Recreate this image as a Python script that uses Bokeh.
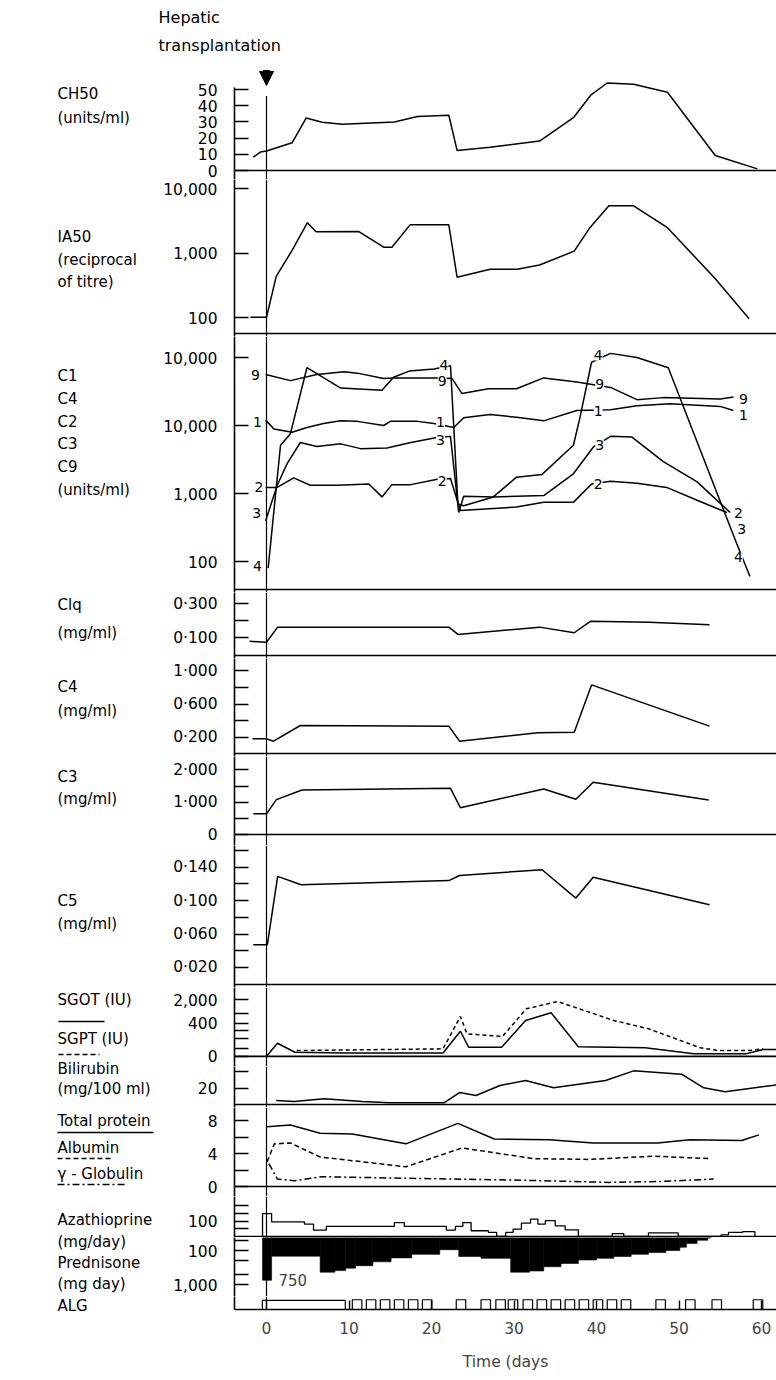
import numpy as np
from bokeh.plotting import figure
from bokeh.layouts import column, row
from bokeh.models import Range1d, FixedTicker, Span, Label, Arrow, NormalHead
from bokeh.embed import file_html
from bokeh.resources import INLINE
from bokeh.core.properties import value

FONT = "DejaVu Sans"
TICK_FS = "15.5px"
LABEL_FS = "15px"

# ---------------- data ----------------
day_ticks = [0, 10, 20, 30, 40, 50, 60]

ch50_day = [-1.6, -0.75, 0.0, 3.1, 4.8, 6.75, 9.2, 15.5, 18.3, 22.1, 23.1, 27.1, 33.1, 37.2, 39.3, 41.3, 44.5, 48.6, 54.4, 59.5]
ch50_val = [8.3, 11.4, 12.0, 17.1, 32.4, 29.8, 28.5, 30.0, 33.3, 34.1, 12.4, 14.3, 18.2, 32.6, 46.5, 54.0, 53.3, 48.3, 9.3, 1.0]

ia50_day = [-1.96, 0.0, 1.18, 3.1, 4.96, 6.0, 11.2, 14.2, 15.2, 17.4, 22.1, 23.1, 27.1, 30.4, 33.1, 37.3, 39.2, 41.5, 44.5, 48.6, 54.4, 58.5]
ia50_val = [101, 101, 433, 1100, 2950, 2130, 2150, 1230, 1230, 2730, 2730, 422, 560, 560, 650, 1070, 2470, 5390, 5390, 2470, 400, 96]

c9_day = [-0.1, 2.9, 6.1, 9.4, 11.0, 14.2, 15.4, 20.7, 22.5, 23.7, 26.9, 30.3, 33.6, 37.6, 41.7, 44.9, 48.1, 55.0, 56.6]
c9_val = [56200, 45700, 56200, 61700, 58900, 49000, 50100, 50100, 49000, 29500, 34700, 34700, 50100, 43600, 36300, 24000, 25700, 24500, 26300]

c4_day = [0.2, 1.7, 2.9, 4.9, 9.0, 14.0, 15.4, 17.3, 20.3, 22.3, 23.2, 23.9, 27.5, 30.3, 33.4, 37.2, 38.0, 39.4, 41.7, 44.9, 48.7, 57.0, 58.6]
c4_val = [80, 5130, 7590, 70800, 35500, 33100, 51300, 63100, 67600, 75900, 700, 660, 891, 1740, 1910, 5130, 13200, 85100, 115000, 100000, 70800, 182, 60]

c1_day = [-0.1, 0.9, 3.1, 4.9, 6.9, 9.0, 11.0, 14.2, 15.0, 18.3, 20.3, 22.7, 23.9, 27.1, 30.3, 33.6, 37.6, 41.7, 44.9, 48.9, 55.0, 56.6]
c1_val = [12000, 8900, 7940, 9330, 10700, 11700, 11500, 10000, 11500, 11500, 10700, 9330, 13000, 14500, 13200, 11700, 16600, 17000, 19500, 20900, 19100, 16600]

c3_day = [-0.1, 1.3, 2.5, 4.1, 6.1, 9.0, 11.4, 14.6, 17.5, 20.5, 22.3, 23.3, 23.9, 27.5, 33.6, 37.2, 39.6, 41.7, 44.3, 48.1, 52.2, 56.2]
c3_val = [398, 1320, 2750, 5620, 4900, 5370, 4570, 4680, 5620, 6610, 6920, 525, 912, 891, 933, 1950, 4790, 6920, 6760, 2950, 1480, 525]

c2_day = [-0.1, 1.3, 3.3, 5.3, 8.6, 12.4, 14.0, 15.2, 17.5, 20.7, 22.3, 23.5, 30.3, 33.6, 37.2, 39.4, 41.7, 44.9, 48.5, 52.2, 55.8]
c2_val = [1230, 1230, 1700, 1320, 1320, 1380, 891, 1350, 1350, 1620, 1660, 562, 631, 741, 741, 1380, 1510, 1410, 1230, 794, 525]

c_tag_text = ["9", "1", "2", "3", "4", "9", "1", "3", "2", "4", "9", "1", "3", "2", "4", "9", "1", "2", "3", "4"]
c_tag_day = [-1.33, -1.1, -0.9, -1.2, -1.1, 21.3, 21.1, 21.1, 21.3, 21.5, 40.4, 40.2, 40.4, 40.2, 40.2, 57.8, 57.8, 57.2, 57.6, 57.2]
c_tag_val = [54950, 11220, 1230, 513, 87, 45710, 11220, 6030, 1550, 77620, 40740, 16600, 5130, 1380, 107150, 24550, 14130, 525, 302, 115]

clq_day = [-2.06, 0.0, 1.35, 22.1, 23.2, 33.1, 37.3, 39.3, 46.4, 53.7]
clq_val = [0.078, 0.072, 0.161, 0.161, 0.118, 0.161, 0.128, 0.196, 0.190, 0.175]

c4m_day = [-1.7, 0.0, 0.85, 4.1, 22.1, 23.4, 32.9, 37.3, 39.4, 53.7]
c4m_val = [0.18, 0.18, 0.152, 0.341, 0.333, 0.152, 0.253, 0.26, 0.83, 0.333]

c3m_day = [-1.6, 0.0, 1.2, 4.3, 22.3, 23.5, 33.6, 37.5, 39.6, 53.6]
c3m_val = [0.64, 0.64, 1.08, 1.38, 1.43, 0.83, 1.41, 1.09, 1.62, 1.07]

c5_day = [-1.6, 0.1, 1.35, 4.2, 22.1, 23.4, 33.4, 37.5, 39.6, 53.7]
c5_val = [0.047, 0.047, 0.129, 0.119, 0.124, 0.130, 0.137, 0.103, 0.128, 0.095]

SGOT_ZERO = 44  # value sitting on the "0" line of the broken SGOT/SGPT scale
sgot_day = [0.0, 1.33, 3.44, 9.6, 21.4, 23.5, 24.5, 28.5, 31.4, 34.5, 37.8, 45.9, 51.8, 58.1, 60.2, 61.8]
sgot_val = [44, 106, 58, 55, 55, 238, 81, 81, 489, 818, 84, 78, 52, 52, 70, 70]
sgpt_day = [3.66, 21.4, 23.5, 24.3, 28.6, 31.5, 35.3, 42.1, 46.3, 52.6, 54.7, 58.5, 60.2]
sgpt_val = [65, 73, 638, 200, 167, 1072, 1750, 489, 280, 78, 65, 65, 73]

bili_day = [1.18, 3.36, 7.0, 11.6, 15.0, 21.5, 23.4, 25.4, 28.3, 31.4, 34.8, 41.1, 44.5, 50.3, 53.0, 55.6, 61.8]
bili_val = [4.8, 3.6, 6.9, 3.6, 2.0, 2.0, 14.5, 10.9, 23.0, 29.0, 20.2, 29.0, 40.8, 36.8, 20.2, 15.4, 23.8]

tp_day = [0.07, 2.9, 6.5, 10.4, 16.9, 23.2, 27.6, 34.3, 39.6, 47.4, 51.3, 57.6, 59.7]
tp_val = [7.3, 7.5, 6.5, 6.4, 5.2, 7.7, 5.8, 5.7, 5.3, 5.3, 5.7, 5.6, 6.3]
alb_day = [0.07, 0.95, 2.9, 6.5, 16.9, 23.7, 32.4, 39.2, 46.9, 53.7]
alb_val = [3.0, 5.2, 5.3, 3.6, 2.4, 4.7, 3.4, 3.3, 3.7, 3.4]
glob_day = [0.28, 1.33, 3.4, 6.75, 16.9, 29.5, 41.6, 47.4, 54.2]
glob_val = [2.8, 0.9, 0.7, 1.2, 1.0, 0.8, 0.5, 0.6, 0.9]

aza_start = [-0.48, 0.62, 4.6, 5.7, 7.25, 15.5, 16.7, 21.8, 22.9, 23.8, 24.8, 26.9, 27.9, 29.0, 29.9, 30.9, 32.0, 32.9, 33.8, 35.0, 36.2, 37.8, 41.9, 43.3, 46.3, 49.9, 55.1, 56.0, 57.7]
aza_dose = [148, 95, 80, 41, 65, 90, 65, 41, 65, 90, 37, 26, 0, 26, 48, 86, 112, 80, 103, 69, 43, 0, 19, 0, 24, 0, 10, 26, 32]
aza_end = 59.2

pred_start = [-0.48, 0.62, 6.5, 8.3, 9.6, 10.8, 12.9, 15.1, 17.6, 21.0, 23.3, 26.0, 29.6, 31.9, 33.6, 35.7, 37.8, 40.0, 42.1, 44.2, 46.3, 48.4, 50.1, 50.9, 52.2, 53.5]
pred_dose = [750, 147, 435, 390, 330, 280, 215, 165, 130, 95, 150, 170, 435, 400, 300, 240, 190, 170, 150, 130, 115, 100, 80, 62, 50, 43]
pred_end = 53.9

alg_course = (-0.5, 9.55)
alg_days = [10.4, 12.1, 13.8, 15.5, 17.2, 18.9, 23.0, 26.0, 27.8, 29.3, 31.1, 32.8, 34.5, 36.2, 37.9, 39.6, 41.3, 43.0, 47.2, 50.8, 54.0, 59.0]

# ---------------- layout (window pixels) ----------------
PAGE_W, PAGE_H = 776, 1380
HEAD_H = 66
LBL_R = 156
AX_X = 234
DAY0_X = 266
PX_DAY = 8.25
FRAME_W = PAGE_W - AX_X
x_range = Range1d((AX_X - DAY0_X) / PX_DAY, (PAGE_W - DAY0_X) / PX_DAY)


def y_limits(kind, top, bottom, ref_val, ref_px, ppu):
    if kind == "lin":
        return ref_val - (bottom - ref_px) / ppu, ref_val + (ref_px - top) / ppu
    lr = np.log10(ref_val)
    if kind == "log":
        return 10 ** (lr - (bottom - ref_px) / ppu), 10 ** (lr + (ref_px - top) / ppu)
    return 10 ** (lr + (bottom - ref_px) / ppu), 10 ** (lr + (top - ref_px) / ppu)


def make_panel(top, bottom, kind, ref_val, ref_px, ppu, ticks, labels,
               sep=None, last=False, day0=True):
    start, end = y_limits(kind, top, bottom, ref_val, ref_px, ppu)
    p = figure(x_range=x_range, y_range=Range1d(start, end),
               y_axis_type="linear" if kind == "lin" else "log",
               frame_width=FRAME_W, frame_height=bottom - top,
               min_border_left=AX_X - LBL_R, min_border_right=0,
               min_border_top=0,
               min_border_bottom=(PAGE_H - bottom) if last else 0,
               x_axis_location="below" if last else None,
               toolbar_location=None, output_backend="svg", title=None)
    p.outline_line_color = None
    p.grid.visible = False
    p.background_fill_color = "white"
    p.border_fill_color = "white"
    ax = p.yaxis[0]
    ax.ticker = FixedTicker(ticks=ticks, minor_ticks=[])
    ax.major_label_overrides = {t: l for t, l in zip(ticks, labels)}
    ax.major_tick_in = 14
    ax.major_tick_out = 0
    ax.minor_tick_in = 0
    ax.minor_tick_out = 0
    ax.major_label_standoff = 17
    ax.axis_line_width = 1.6
    ax.major_tick_line_width = 1.6
    ax.major_label_text_font = FONT
    ax.major_label_text_font_size = TICK_FS
    ax.major_label_text_color = "black"
    if sep is not None:
        p.add_layout(Span(location=sep, dimension="width", line_color="black", line_width=1.6))
    if day0:
        p.add_layout(Span(location=0, dimension="height", line_color="black", line_width=1.2))
    return p, start, end


def line(p, x, y, dash="solid"):
    p.line(x, y, line_color="black", line_width=1.5, line_dash=dash)


panels = []

# CH50
p1, s1, e1 = make_panel(HEAD_H, 179, "lin", 0, 170, 1.62, [0, 10, 20, 30, 40, 50],
                        ["0", "10", "20", "30", "40", "50"], sep=0, day0=False)
p1.yaxis[0].bounds = (s1, 51.2)
p1.segment(x0=[0], y0=[s1], x1=[0], y1=[46], line_color="black", line_width=1.2)
p1.add_layout(Arrow(x_start=0, y_start=62, x_end=0, y_end=52.5, line_width=7,
                    end=NormalHead(size=14, fill_color="black", line_color="black")))
line(p1, ch50_day, ch50_val)
panels.append(p1)

# IA50
p2, _, _ = make_panel(179, 336, "log", 100, 317, 64.5, [100, 1000, 10000], ["100", "1,000", "10,000"],
                      sep=10 ** (2 - (333 - 317) / 64.5))
line(p2, ia50_day, ia50_val)
panels.append(p2)

# C components
p3, _, _ = make_panel(336, 592, "log", 100, 561, 68, [100, 1000, 10000, 100000],
                      ["100", "1,000", "10,000", "10,000"], sep=10 ** (2 - (589 - 561) / 68))
for d, v in [(c9_day, c9_val), (c4_day, c4_val), (c1_day, c1_val), (c3_day, c3_val), (c2_day, c2_val)]:
    line(p3, d, v)
p3.text(x=c_tag_day, y=c_tag_val, text=c_tag_text, text_font=value(FONT), text_font_size="14px",
        text_align="center", text_baseline="middle", background_fill_color="white")
panels.append(p3)

# Clq
p4, _, _ = make_panel(592, 658, "lin", 0.1, 637, 170, [0.1, 0.2, 0.3], ["0·100", "", "0·300"],
                      sep=0.1 - (655 - 637) / 170)
line(p4, clq_day, clq_val)
panels.append(p4)

# C4 mg
p5, _, _ = make_panel(658, 756, "lin", 0.2, 736.7, 83, [0.2, 0.4, 0.6, 0.8, 1.0],
                      ["0·200", "", "0·600", "", "1·000"], sep=0.2 - (753 - 736.7) / 83)
line(p5, c4m_day, c4m_val)
panels.append(p5)

# C3 mg
p6, _, _ = make_panel(756, 845, "lin", 0, 834, 32.3, [0, 0.5, 1.0, 1.5, 2.0],
                      ["0", "", "1·000", "", "2·000"], sep=0)
line(p6, c3m_day, c3m_val)
panels.append(p6)

# C5
p7, _, _ = make_panel(845, 987, "lin", 0.14, 866.7, 835, [0.02, 0.04, 0.06, 0.08, 0.10, 0.12, 0.14, 0.16],
                      ["0·020", "", "0·060", "", "0·100", "", "0·140", ""], sep=0.14 - (984 - 866.7) / 835)
line(p7, c5_day, c5_val)
panels.append(p7)

# SGOT / SGPT
p8, _, _ = make_panel(987, 1066, "log", 2000, 999, 34.3, [SGOT_ZERO, 75, 150, 250, 400, 800, 2000],
                      ["0", "", "", "", "400", "", "2,000"], sep=SGOT_ZERO)
line(p8, sgot_day, sgot_val)
line(p8, sgpt_day, sgpt_val, dash="4 3")
panels.append(p8)

# Bilirubin
p9, _, _ = make_panel(1066, 1107, "lin", 0, 1104, 0.825, [20, 40], ["20", ""], sep=0)
line(p9, bili_day, bili_val)
panels.append(p9)

# Proteins
p10, _, _ = make_panel(1107, 1196, "lin", 0, 1186, 8.2, [0, 2, 4, 6, 8], ["0", "", "4", "", "8"], sep=0)
line(p10, tp_day, tp_val)
line(p10, alb_day, alb_val, dash="5 3")
line(p10, glob_day, glob_val, dash="7 3 2 3")
panels.append(p10)

# Azathioprine
p11, _, _ = make_panel(1196, 1237, "lin", 0, 1236, 0.155, [50, 100, 150, 200], ["", "100", "", ""], sep=0)
p11.step(x=[aza_start[0]] + aza_start + [aza_end], y=[0] + aza_dose + [0], mode="after",
         line_color="black", line_width=1.3)
panels.append(p11)

# Prednisone (log, growing downwards)
p12, s12, e12 = make_panel(1237, 1296, "logrev", 100, 1250, 34, [50, 100, 200, 500, 1000],
                           ["", "100", "", "", "1,000"])
pred_right = pred_start[1:] + [pred_end]
p12.quad(left=pred_start, right=pred_right, bottom=[e12] * len(pred_start), top=pred_dose,
         fill_color="black", line_color="black", line_width=0.6)
p12.add_layout(Label(x=0, y=pred_dose[0], x_offset=12, text="750", text_font=FONT,
                     text_font_size="15px", text_baseline="middle", text_align="left"))
panels.append(p12)

# ALG
p13, _, _ = make_panel(1296, 1309, "lin", 0, 1309, 13, [], [], last=True)
p13.quad(left=[alg_course[0]], right=[alg_course[1]], bottom=[0], top=[0.7],
         fill_color=None, line_color="black", line_width=1.2)
p13.quad(left=alg_days, right=[d + 1.15 for d in alg_days], bottom=[0] * len(alg_days),
         top=[0.75] * len(alg_days), fill_color=None, line_color="black", line_width=1.2)
xa = p13.xaxis[0]
xa.ticker = FixedTicker(ticks=day_ticks, minor_ticks=[])
xa.major_tick_in = 9
xa.major_tick_out = 0
xa.minor_tick_in = 0
xa.minor_tick_out = 0
xa.axis_line_width = 1.6
xa.major_tick_line_width = 1.4
xa.major_label_standoff = 12
xa.major_label_text_font = FONT
xa.major_label_text_font_size = TICK_FS
xa.axis_label = "Time (days"
xa.axis_label_text_font = FONT
xa.axis_label_text_font_size = "15.5px"
xa.axis_label_text_font_style = "normal"
xa.axis_label_standoff = 16
panels.append(p13)

# ---------------- header strip ----------------
hdr = figure(x_range=Range1d(0, PAGE_W), y_range=Range1d(HEAD_H, 0),
             frame_width=PAGE_W, frame_height=HEAD_H, min_border=0,
             x_axis_location=None, y_axis_location=None, toolbar_location=None,
             output_backend="svg", title=None)
hdr.outline_line_color = None
hdr.grid.visible = False
hdr.text(x=[158, 158], y=[17, 45], text=["Hepatic", "transplantation"], text_font=value(FONT),
         text_font_size="16px", text_baseline="middle", text_align="left")

# ---------------- left label column ----------------
LABEL_X = 57
lab_text = ["CH50", "(units/ml)", "IA50", "(reciprocal", "of titre)",
            "C1", "C4", "C2", "C3", "C9", "(units/ml)",
            "Clq", "(mg/ml)", "C4", "(mg/ml)", "C3", "(mg/ml)", "C5", "(mg/ml)",
            "SGOT (IU)", "SGPT (IU)", "Bilirubin", "(mg/100 ml)",
            "Total protein", "Albumin", "γ - Globulin",
            "Azathioprine", "(mg/day)", "Prednisone", "(mg day)", "ALG"]
lab_y = [93, 117, 236, 259, 281,
         375, 398, 421, 443, 466, 489,
         604, 632, 686, 710, 776, 798, 900, 923,
         999, 1038, 1068, 1088,
         1120, 1147, 1173,
         1219, 1241, 1262, 1283, 1305]

lab = figure(x_range=Range1d(0, LBL_R), y_range=Range1d(PAGE_H, HEAD_H),
             frame_width=LBL_R, frame_height=PAGE_H - HEAD_H, min_border=0,
             x_axis_location=None, y_axis_location=None, toolbar_location=None,
             output_backend="svg", title=None)
lab.outline_line_color = None
lab.grid.visible = False
lab.text(x=[LABEL_X] * len(lab_text), y=lab_y, text=lab_text, text_font=value(FONT),
         text_font_size=LABEL_FS, text_baseline="middle", text_align="left")
lab.segment(x0=[LABEL_X + 1, LABEL_X], y0=[1021, 1132], x1=[LABEL_X + 47, LABEL_X + 96], y1=[1021, 1132],
            line_color="black", line_width=1.3)
lab.segment(x0=[LABEL_X + 1, LABEL_X], y0=[1054, 1158], x1=[LABEL_X + 42, LABEL_X + 56], y1=[1054, 1158],
            line_color="black", line_width=1.3, line_dash="5 3")
lab.segment(x0=[LABEL_X], y0=[1184], x1=[LABEL_X + 70], y1=[1184],
            line_color="black", line_width=1.3, line_dash="7 3 2 3")

layout = column(hdr, row(lab, column(*panels, spacing=0), spacing=0), spacing=0)
open("out.html", "w").write(file_html(layout, INLINE))
